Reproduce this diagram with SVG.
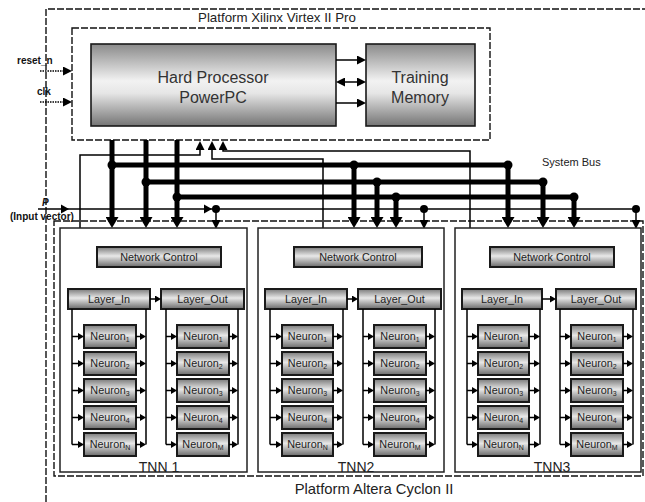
<svg xmlns="http://www.w3.org/2000/svg" width="645" height="502" viewBox="0 0 645 502">
  <style>
    .t { font-family: "Liberation Sans", Arial, sans-serif; fill: #222; }
    .big { font-size: 16px; fill: #333; }
    .sm { font-size: 10px; }
    .in { font-size: 10.8px; }
    .b { font-weight: bold; fill: #111; }
    .dash { fill: none; stroke: #111; stroke-width: 1.4; stroke-dasharray: 7 2; }
    .box { fill: #fff; stroke: #222; stroke-width: 1.5; }
    .blk { fill: url(#metal); stroke: #1a1a1a; stroke-width: 1.6; }
    .sub { fill: url(#metalD); stroke: #1a1a1a; stroke-width: 2; }
    .w { fill: none; stroke: #000; stroke-width: 1.5; }
    .bus { fill: none; stroke: #000; stroke-width: 5; }
    .dot { fill: #000; }
    .na { fill: none; stroke: #000; stroke-width: 1.5; marker-end: url(#nArr); }
  </style>
  <defs>
    <linearGradient id="metal" x1="0" y1="0" x2="0" y2="1">
      <stop offset="0" stop-color="#8a8a8a"/>
      <stop offset="0.45" stop-color="#f2f2f2"/>
      <stop offset="0.6" stop-color="#e6e6e6"/>
      <stop offset="1" stop-color="#747474"/>
    </linearGradient>
    <linearGradient id="metalD" x1="0" y1="0" x2="0" y2="1">
      <stop offset="0" stop-color="#7a7a7a"/>
      <stop offset="0.45" stop-color="#e8e8e8"/>
      <stop offset="1" stop-color="#6a6a6a"/>
    </linearGradient>
    <marker id="nArr" viewBox="0 -3.5 6 7" refX="0" refY="0" markerWidth="6" markerHeight="7" markerUnits="userSpaceOnUse" orient="auto">
      <path d="M0,-3.5 L6,0 L0,3.5 z" fill="#000"/>
    </marker>
    <marker id="tArr" viewBox="0 -4.5 9 9" refX="0" refY="0" markerWidth="9" markerHeight="9" markerUnits="userSpaceOnUse" orient="auto">
      <path d="M0,-4.5 L9,0 L0,4.5 z" fill="#000"/>
    </marker>
    <marker id="tArrS" viewBox="0 -4.5 9 9" refX="0" refY="0" markerWidth="9" markerHeight="9" markerUnits="userSpaceOnUse" orient="auto-start-reverse">
      <path d="M0,-4.5 L9,0 L0,4.5 z" fill="#000"/>
    </marker>
    <marker id="bArr" viewBox="0 -6.5 11 13" refX="0" refY="0" markerWidth="11" markerHeight="13" markerUnits="userSpaceOnUse" orient="auto">
      <path d="M0,-6.5 L11,0 L0,6.5 z" fill="#000"/>
    </marker>
  </defs>

  <rect width="645" height="502" fill="#fff"/>

  <!-- platform outlines -->
  <g id="platform-xilinx">
    <path class="dash" d="M46,502 V9 H645"/>
    <text class="t" font-size="13.3" x="277" y="22" text-anchor="middle">Platform Xilinx Virtex II Pro</text>
    <rect class="dash" x="72" y="28" width="418" height="112"/>
  </g>
  <g id="platform-altera">
    <rect class="dash" x="54" y="221" width="589" height="255"/>
    <text class="t" font-size="14.8" x="374" y="494" text-anchor="middle">Platform Altera Cyclon II</text>
  </g>

  <!-- processor and memory -->
  <g id="powerpc">
    <rect class="blk" x="91" y="44" width="245" height="82"/>
    <text class="t big" x="213" y="83" text-anchor="middle">Hard Processor</text>
    <text class="t big" x="213" y="103" text-anchor="middle">PowerPC</text>
  </g>
  <g id="training-memory">
    <rect class="blk" x="366" y="44" width="109" height="82"/>
    <text class="t big" x="420" y="83" text-anchor="middle">Training</text>
    <text class="t big" x="420" y="103" text-anchor="middle">Memory</text>
  </g>

  <!-- external inputs -->
  <g id="inputs">
    <text class="t sm b" x="17" y="64">reset_n</text>
    <text class="t sm b" x="37" y="95">clk</text>
    <text class="t sm b" x="42" y="206" font-style="italic">P</text>
    <text class="t sm b" x="10" y="220">(Input vector)</text>
  </g>

  <g id="connectors">
    <!-- clock and reset -->
    <path d="M40,71 H63" fill="none" stroke="#000" stroke-width="1.6" stroke-dasharray="1.5 1" marker-end="url(#tArr)"/>
    <path d="M40,102 H63" fill="none" stroke="#000" stroke-width="1.6" stroke-dasharray="1.5 1" marker-end="url(#tArr)"/>

    <!-- processor to memory -->
    <path class="w" d="M336,60 H357" marker-end="url(#tArr)"/>
    <path class="w" d="M345,82 H357" marker-start="url(#tArrS)" marker-end="url(#tArr)"/>
    <path class="w" d="M336,103 H357" marker-end="url(#tArr)"/>

    <!-- return lines from the TNNs to the processor -->
    <path class="w" d="M80,228 V155 H200 V150" marker-end="url(#tArr)"/>
    <path class="w" d="M323,228 V159 H212 V150" marker-end="url(#tArr)"/>
    <path class="w" d="M470,228 V151 H223 V150" marker-end="url(#tArr)"/>

    <!-- system bus -->
    <path class="bus" d="M112,165 H508"/>
    <path class="bus" d="M146,182 H543"/>
    <path class="bus" d="M177,197 H574"/>
    <path class="bus" d="M112,140 V217" marker-end="url(#bArr)"/>
    <path class="bus" d="M146,140 V217" marker-end="url(#bArr)"/>
    <path class="bus" d="M177,140 V217" marker-end="url(#bArr)"/>
    <path class="bus" d="M354,165 V217" marker-end="url(#bArr)"/>
    <path class="bus" d="M377,182 V217" marker-end="url(#bArr)"/>
    <path class="bus" d="M396,197 V217" marker-end="url(#bArr)"/>
    <path class="bus" d="M508,165 V217" marker-end="url(#bArr)"/>
    <path class="bus" d="M543,182 V217" marker-end="url(#bArr)"/>
    <path class="bus" d="M574,197 V217" marker-end="url(#bArr)"/>

    <!-- input vector line -->
    <path class="w" d="M38,209 H636"/>
    <polygon points="61,204.5 69,209 61,213.5" fill="#000"/>
    <polygon points="204,204.5 212,209 204,213.5" fill="#000"/>
    <path class="w" d="M216,209 V220" marker-end="url(#tArr)"/>
    <path class="w" d="M424,209 V220" marker-end="url(#tArr)"/>
    <path class="w" d="M636,209 V220" marker-end="url(#tArr)"/>

    <circle class="dot" cx="112" cy="165" r="4.5"/>
    <circle class="dot" cx="146" cy="182" r="4.5"/>
    <circle class="dot" cx="177" cy="197" r="4.5"/>
    <circle class="dot" cx="216" cy="209" r="4"/>
    <circle class="dot" cx="354" cy="165" r="4.5"/>
    <circle class="dot" cx="377" cy="182" r="4.5"/>
    <circle class="dot" cx="396" cy="197" r="4.5"/>
    <circle class="dot" cx="424" cy="209" r="4"/>
    <circle class="dot" cx="508" cy="165" r="4.5"/>
    <circle class="dot" cx="543" cy="182" r="4.5"/>
    <circle class="dot" cx="574" cy="197" r="4.5"/>
    <circle class="dot" cx="636" cy="209" r="4"/>
  </g>

  <text class="t" font-size="11" x="542" y="166">System Bus</text>

  <!-- TNN 1 -->
  <g id="tnn1" transform="translate(60,228)">
    <rect class="box" x="0" y="0" width="187" height="244"/>
    <rect class="sub" x="37" y="19" width="124" height="20"/>
    <text class="t in" x="99" y="33" text-anchor="middle">Network Control</text>
    <rect class="sub" x="8" y="61" width="82" height="20"/>
    <text class="t in" x="49" y="75" text-anchor="middle">Layer_In</text>
    <rect class="sub" x="101" y="61" width="83" height="20"/>
    <text class="t in" x="142.5" y="75" text-anchor="middle">Layer_Out</text>
    <path class="na" d="M90,71 H95"/>
    <path class="w" d="M12,81 V216.5 M86,81 V216.5 M106,81 V216.5 M178,81 V216.5"/>
    <g>
      <rect class="sub" x="24" y="97" width="52" height="23"/>
      <rect class="sub" x="24" y="124" width="52" height="23"/>
      <rect class="sub" x="24" y="151" width="52" height="23"/>
      <rect class="sub" x="24" y="178" width="52" height="23"/>
      <rect class="sub" x="24" y="205" width="52" height="23"/>
      <rect class="sub" x="117" y="97" width="52" height="23"/>
      <rect class="sub" x="117" y="124" width="52" height="23"/>
      <rect class="sub" x="117" y="151" width="52" height="23"/>
      <rect class="sub" x="117" y="178" width="52" height="23"/>
      <rect class="sub" x="117" y="205" width="52" height="23"/>
      <text class="t in" x="50" y="112" text-anchor="middle">Neuron<tspan font-size="7" dy="2">1</tspan></text>
      <text class="t in" x="50" y="139" text-anchor="middle">Neuron<tspan font-size="7" dy="2">2</tspan></text>
      <text class="t in" x="50" y="166" text-anchor="middle">Neuron<tspan font-size="7" dy="2">3</tspan></text>
      <text class="t in" x="50" y="193" text-anchor="middle">Neuron<tspan font-size="7" dy="2">4</tspan></text>
      <text class="t in" x="50" y="220" text-anchor="middle">Neuron<tspan font-size="7" dy="2">N</tspan></text>
      <text class="t in" x="143" y="112" text-anchor="middle">Neuron<tspan font-size="7" dy="2">1</tspan></text>
      <text class="t in" x="143" y="139" text-anchor="middle">Neuron<tspan font-size="7" dy="2">2</tspan></text>
      <text class="t in" x="143" y="166" text-anchor="middle">Neuron<tspan font-size="7" dy="2">3</tspan></text>
      <text class="t in" x="143" y="193" text-anchor="middle">Neuron<tspan font-size="7" dy="2">4</tspan></text>
      <text class="t in" x="143" y="220" text-anchor="middle">Neuron<tspan font-size="7" dy="2">M</tspan></text>
    </g>
    <g>
      <path class="na" d="M12,108.5 H18"/><path class="na" d="M12,135.5 H18"/><path class="na" d="M12,162.5 H18"/><path class="na" d="M12,189.5 H18"/><path class="na" d="M12,216.5 H18"/>
      <path class="na" d="M76,108.5 H80"/><path class="na" d="M76,135.5 H80"/><path class="na" d="M76,162.5 H80"/><path class="na" d="M76,189.5 H80"/><path class="na" d="M76,216.5 H80"/>
      <path class="na" d="M106,108.5 H111"/><path class="na" d="M106,135.5 H111"/><path class="na" d="M106,162.5 H111"/><path class="na" d="M106,189.5 H111"/><path class="na" d="M106,216.5 H111"/>
      <path class="na" d="M169,108.5 H172"/><path class="na" d="M169,135.5 H172"/><path class="na" d="M169,162.5 H172"/><path class="na" d="M169,189.5 H172"/><path class="na" d="M169,216.5 H172"/>
    </g>
    <text class="t" font-size="14" x="99" y="243.5" text-anchor="middle">TNN 1</text>
  </g>

  <!-- TNN 2 -->
  <g id="tnn2" transform="translate(258,228)">
    <rect class="box" x="0" y="0" width="186" height="244"/>
    <rect class="sub" x="36" y="19" width="128" height="20"/>
    <text class="t in" x="100" y="33" text-anchor="middle">Network Control</text>
    <rect class="sub" x="7" y="61" width="82" height="20"/>
    <text class="t in" x="48" y="75" text-anchor="middle">Layer_In</text>
    <rect class="sub" x="100" y="61" width="83" height="20"/>
    <text class="t in" x="141.5" y="75" text-anchor="middle">Layer_Out</text>
    <path class="na" d="M89,71 H94"/>
    <path class="w" d="M12,81 V216.5 M85,81 V216.5 M105,81 V216.5 M177,81 V216.5"/>
    <g>
      <rect class="sub" x="24" y="97" width="51" height="23"/>
      <rect class="sub" x="24" y="124" width="51" height="23"/>
      <rect class="sub" x="24" y="151" width="51" height="23"/>
      <rect class="sub" x="24" y="178" width="51" height="23"/>
      <rect class="sub" x="24" y="205" width="51" height="23"/>
      <rect class="sub" x="116" y="97" width="52" height="23"/>
      <rect class="sub" x="116" y="124" width="52" height="23"/>
      <rect class="sub" x="116" y="151" width="52" height="23"/>
      <rect class="sub" x="116" y="178" width="52" height="23"/>
      <rect class="sub" x="116" y="205" width="52" height="23"/>
      <text class="t in" x="49.5" y="112" text-anchor="middle">Neuron<tspan font-size="7" dy="2">1</tspan></text>
      <text class="t in" x="49.5" y="139" text-anchor="middle">Neuron<tspan font-size="7" dy="2">2</tspan></text>
      <text class="t in" x="49.5" y="166" text-anchor="middle">Neuron<tspan font-size="7" dy="2">3</tspan></text>
      <text class="t in" x="49.5" y="193" text-anchor="middle">Neuron<tspan font-size="7" dy="2">4</tspan></text>
      <text class="t in" x="49.5" y="220" text-anchor="middle">Neuron<tspan font-size="7" dy="2">N</tspan></text>
      <text class="t in" x="142" y="112" text-anchor="middle">Neuron<tspan font-size="7" dy="2">1</tspan></text>
      <text class="t in" x="142" y="139" text-anchor="middle">Neuron<tspan font-size="7" dy="2">2</tspan></text>
      <text class="t in" x="142" y="166" text-anchor="middle">Neuron<tspan font-size="7" dy="2">3</tspan></text>
      <text class="t in" x="142" y="193" text-anchor="middle">Neuron<tspan font-size="7" dy="2">4</tspan></text>
      <text class="t in" x="142" y="220" text-anchor="middle">Neuron<tspan font-size="7" dy="2">M</tspan></text>
    </g>
    <g>
      <path class="na" d="M12,108.5 H18"/><path class="na" d="M12,135.5 H18"/><path class="na" d="M12,162.5 H18"/><path class="na" d="M12,189.5 H18"/><path class="na" d="M12,216.5 H18"/>
      <path class="na" d="M75,108.5 H79"/><path class="na" d="M75,135.5 H79"/><path class="na" d="M75,162.5 H79"/><path class="na" d="M75,189.5 H79"/><path class="na" d="M75,216.5 H79"/>
      <path class="na" d="M105,108.5 H110"/><path class="na" d="M105,135.5 H110"/><path class="na" d="M105,162.5 H110"/><path class="na" d="M105,189.5 H110"/><path class="na" d="M105,216.5 H110"/>
      <path class="na" d="M168,108.5 H171"/><path class="na" d="M168,135.5 H171"/><path class="na" d="M168,162.5 H171"/><path class="na" d="M168,189.5 H171"/><path class="na" d="M168,216.5 H171"/>
    </g>
    <text class="t" font-size="14" x="98" y="243.5" text-anchor="middle">TNN2</text>
  </g>

  <!-- TNN 3 -->
  <g id="tnn3" transform="translate(455,228)">
    <rect class="box" x="0" y="0" width="186" height="244"/>
    <rect class="sub" x="35" y="19" width="124" height="20"/>
    <text class="t in" x="97" y="33" text-anchor="middle">Network Control</text>
    <rect class="sub" x="7" y="61" width="80" height="20"/>
    <text class="t in" x="47" y="75" text-anchor="middle">Layer_In</text>
    <rect class="sub" x="101" y="61" width="80" height="20"/>
    <text class="t in" x="141" y="75" text-anchor="middle">Layer_Out</text>
    <path class="na" d="M87,71 H95"/>
    <path class="w" d="M12,81 V216.5 M85,81 V216.5 M105,81 V216.5 M178,81 V216.5"/>
    <g>
      <rect class="sub" x="23" y="97" width="51" height="23"/>
      <rect class="sub" x="23" y="124" width="51" height="23"/>
      <rect class="sub" x="23" y="151" width="51" height="23"/>
      <rect class="sub" x="23" y="178" width="51" height="23"/>
      <rect class="sub" x="23" y="205" width="51" height="23"/>
      <rect class="sub" x="116" y="97" width="52" height="23"/>
      <rect class="sub" x="116" y="124" width="52" height="23"/>
      <rect class="sub" x="116" y="151" width="52" height="23"/>
      <rect class="sub" x="116" y="178" width="52" height="23"/>
      <rect class="sub" x="116" y="205" width="52" height="23"/>
      <text class="t in" x="48.5" y="112" text-anchor="middle">Neuron<tspan font-size="7" dy="2">1</tspan></text>
      <text class="t in" x="48.5" y="139" text-anchor="middle">Neuron<tspan font-size="7" dy="2">2</tspan></text>
      <text class="t in" x="48.5" y="166" text-anchor="middle">Neuron<tspan font-size="7" dy="2">3</tspan></text>
      <text class="t in" x="48.5" y="193" text-anchor="middle">Neuron<tspan font-size="7" dy="2">4</tspan></text>
      <text class="t in" x="48.5" y="220" text-anchor="middle">Neuron<tspan font-size="7" dy="2">N</tspan></text>
      <text class="t in" x="142" y="112" text-anchor="middle">Neuron<tspan font-size="7" dy="2">1</tspan></text>
      <text class="t in" x="142" y="139" text-anchor="middle">Neuron<tspan font-size="7" dy="2">2</tspan></text>
      <text class="t in" x="142" y="166" text-anchor="middle">Neuron<tspan font-size="7" dy="2">3</tspan></text>
      <text class="t in" x="142" y="193" text-anchor="middle">Neuron<tspan font-size="7" dy="2">4</tspan></text>
      <text class="t in" x="142" y="220" text-anchor="middle">Neuron<tspan font-size="7" dy="2">M</tspan></text>
    </g>
    <g>
      <path class="na" d="M12,108.5 H17"/><path class="na" d="M12,135.5 H17"/><path class="na" d="M12,162.5 H17"/><path class="na" d="M12,189.5 H17"/><path class="na" d="M12,216.5 H17"/>
      <path class="na" d="M74,108.5 H79"/><path class="na" d="M74,135.5 H79"/><path class="na" d="M74,162.5 H79"/><path class="na" d="M74,189.5 H79"/><path class="na" d="M74,216.5 H79"/>
      <path class="na" d="M105,108.5 H110"/><path class="na" d="M105,135.5 H110"/><path class="na" d="M105,162.5 H110"/><path class="na" d="M105,189.5 H110"/><path class="na" d="M105,216.5 H110"/>
      <path class="na" d="M168,108.5 H172"/><path class="na" d="M168,135.5 H172"/><path class="na" d="M168,162.5 H172"/><path class="na" d="M168,189.5 H172"/><path class="na" d="M168,216.5 H172"/>
    </g>
    <text class="t" font-size="14" x="97" y="243.5" text-anchor="middle">TNN3</text>
  </g>
</svg>
